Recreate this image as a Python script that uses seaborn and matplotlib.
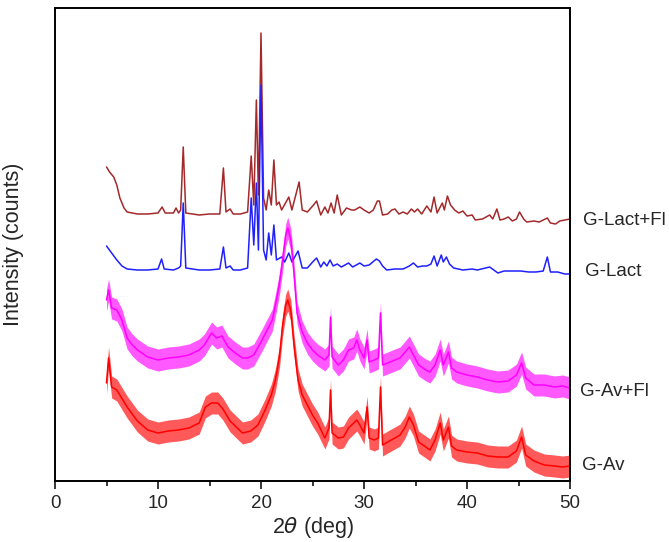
import numpy as np
import pandas as pd
import matplotlib
matplotlib.use("Agg")
import matplotlib.pyplot as plt
import seaborn as sns
from matplotlib.ticker import MultipleLocator

# ---------------- data (intensity in arbitrary units) ----------------
lact_fl_x = [5.0, 5.3, 5.7, 6.0, 6.3, 6.7, 7.0, 8.0, 9.0, 10.0, 10.4, 10.7, 11.5, 11.75, 12.0, 12.2,
             12.45, 12.7, 14.0, 15.0, 16.0, 16.35, 16.6, 17.0, 17.3, 18.0, 18.7, 19.05, 19.3, 19.55,
             19.75, 20.0, 20.25, 20.5, 20.75, 21.0, 21.25, 21.5, 21.75, 22.0, 22.7, 23.0, 23.7, 24.0,
             24.5, 25.1, 25.4, 25.8, 26.2, 26.5, 26.8, 27.1, 27.4, 27.8, 28.3, 28.8, 29.1, 29.6, 30.0,
             30.5, 30.9, 31.3, 31.5, 31.8, 32.3, 32.7, 33.0, 33.4, 33.8, 34.2, 34.6, 34.9, 35.2, 35.6,
             36.1, 36.5, 36.8, 37.1, 37.6, 37.8, 38.1, 38.4, 38.8, 39.2, 39.6, 40.0, 40.5, 40.8, 41.5,
             42.2, 42.5, 42.9, 43.2, 43.6, 44.0, 44.4, 44.8, 45.1, 45.5, 45.8, 46.5, 47.0, 47.8, 48.1,
             48.6, 49.0, 49.5, 50.0]
lact_fl_y = [314, 309, 304, 296, 283, 273, 269, 267, 267, 268, 274, 268, 268, 273, 268, 271,
             334, 268, 266, 267, 267, 313, 269, 272, 267, 267, 269, 325, 276, 381,
             286, 448, 283, 271, 291, 276, 321, 276, 279, 271, 284, 271, 299, 271,
             269, 276, 280, 266, 274, 268, 278, 268, 286, 266, 273, 271, 271, 274, 271,
             268, 271, 280, 280, 266, 267, 271, 272, 267, 269, 267, 272, 269, 272, 267,
             275, 269, 284, 268, 278, 271, 285, 276, 271, 268, 270, 265, 266, 261, 262,
             266, 262, 272, 261, 262, 264, 260, 262, 269, 262, 259, 260, 259, 263, 258,
             257, 260, 261, 262]

lact_x = [5.0, 5.5, 6.0, 6.5, 7.0, 8.0, 9.0, 10.0, 10.35, 10.6, 11.5, 12.0, 12.2, 12.45, 12.7, 14.0,
          15.0, 16.0, 16.35, 16.6, 17.0, 17.3, 18.0, 18.7, 19.05, 19.3, 19.55, 19.75, 20.0, 20.25,
          20.5, 20.75, 21.0, 21.25, 21.5, 22.0, 22.3, 22.7, 23.0, 23.6, 24.0, 24.5, 25.1, 25.4, 25.8,
          26.1, 26.4, 26.7, 27.0, 27.4, 27.8, 28.5, 28.9, 29.6, 30.0, 30.5, 31.2, 31.5, 31.8, 32.2,
          33.0, 33.8, 34.4, 34.8, 35.2, 35.7, 36.1, 36.5, 36.8, 37.1, 37.5, 37.7, 38.0, 38.3, 38.7,
          39.6, 40.5, 41.0, 42.2, 42.6, 43.0, 43.6, 44.6, 45.2, 46.0, 46.7, 47.4, 47.8, 48.1, 48.8,
          49.5, 50.0]
lact_y = [235, 228, 221, 215, 212, 211, 211, 212, 222, 212, 211, 213, 215, 278, 213, 211,
          211, 212, 234, 213, 215, 211, 211, 213, 283, 236, 298, 231, 396, 231,
          221, 248, 226, 256, 221, 224, 219, 228, 219, 230, 213, 213, 220, 223, 214,
          219, 215, 221, 215, 217, 214, 218, 214, 218, 215, 216, 222, 220, 215, 211,
          212, 212, 215, 218, 214, 215, 215, 217, 225, 215, 226, 219, 224, 217, 213,
          211, 212, 211, 214, 211, 208, 210, 210, 210, 209, 209, 210, 224, 209, 209,
          207, 207]

av_fl_x = [5.0, 5.2, 5.5, 6.0, 6.5, 7.0, 7.5, 8.0, 9.0, 10.0, 11.0, 12.0, 13.0, 14.0, 14.5, 15.2,
           15.7, 16.2, 16.8, 17.5, 18.2, 18.7, 19.3, 20.1, 20.6, 21.1, 21.5, 21.8, 22.1, 22.4, 22.6,
           22.9, 23.2, 23.5, 24.0, 24.5, 25.0, 25.5, 26.2, 26.6, 26.75, 26.9, 27.5, 28.0, 28.5, 29.0,
           29.3, 29.6, 30.0, 30.3, 30.5, 31.0, 31.4, 31.6, 31.8, 32.3, 33.0, 33.5, 34.0, 34.4, 34.8,
           35.3, 36.0, 36.4, 36.9, 37.4, 37.7, 38.2, 38.5, 39.0, 40.0, 41.0, 42.0, 43.0, 44.0, 44.8,
           45.3, 45.7, 46.5, 47.5, 48.5, 49.3, 50.0]
av_fl_y = [181, 191, 173, 171, 161, 143, 136, 131, 124, 121, 123, 124, 126, 131, 136, 148,
           143, 145, 134, 128, 123, 123, 126, 141, 151, 161, 181, 198, 221, 246, 253,
           241, 208, 168, 149, 138, 131, 126, 121, 126, 164, 124, 116, 121, 131, 133,
           141, 131, 123, 141, 119, 121, 123, 168, 116, 118, 121, 123, 129, 134, 126,
           116, 111, 109, 116, 131, 116, 129, 113, 109, 106, 104, 101, 99, 100, 106,
           118, 103, 96, 96, 94, 95, 93]

av_x = [5.0, 5.2, 5.5, 6.0, 7.0, 8.0, 9.0, 10.0, 11.0, 12.0, 13.0, 14.0, 14.6, 15.2, 15.8, 16.3,
        17.0, 18.2, 19.0, 19.7, 20.4, 21.0, 21.4, 21.8, 22.1, 22.4, 22.6, 22.9, 23.2, 23.6, 24.0,
        24.5, 25.0, 25.5, 26.2, 26.6, 26.75, 26.9, 27.5, 28.0, 28.5, 29.0, 29.3, 29.6, 30.0, 30.3,
        30.5, 31.0, 31.4, 31.6, 31.8, 32.3, 33.0, 33.5, 34.0, 34.4, 34.8, 35.3, 36.0, 36.4, 36.9,
        37.4, 37.7, 38.2, 38.5, 39.0, 40.0, 41.0, 42.0, 43.0, 44.0, 44.8, 45.3, 45.7, 46.5, 47.5,
        48.5, 49.3, 50.0]
av_y = [98, 123, 94, 91, 74, 60, 51, 48, 50, 51, 53, 58, 74, 78, 78, 72,
        60, 48, 50, 56, 71, 86, 101, 125, 156, 176, 181, 170, 136, 101, 86,
        76, 66, 58, 43, 53, 91, 48, 43, 44, 53, 58, 61, 56, 48, 74,
        43, 41, 43, 94, 36, 39, 43, 46, 54, 64, 56, 39, 34, 31, 41,
        58, 41, 54, 35, 31, 29, 28, 25, 24, 24, 30, 44, 26, 20, 16,
        15, 14, 15]

# visible scatter half-width of the noisy amorphous patterns
av_fl_spread = 11
av_spread = 11

series_names = ["G-Lact+Fl", "G-Lact", "G-Av+Fl", "G-Av"]
series_colors = ["#A3292B", "#2020FF", "#FF00FF", "#FF0000"]
xticks = [0, 10, 20, 30, 40, 50]

# ---------------- build a tidy table ----------------
frames = []
for name, xs, ys in zip(series_names,
                        [lact_fl_x, lact_x, av_fl_x, av_x],
                        [lact_fl_y, lact_y, av_fl_y, av_y]):
    frames.append(pd.DataFrame({"x": xs, "y": ys, "sample": name}))
df = pd.concat(frames, ignore_index=True)

# ---------------- figure ----------------
sns.set_style("white")
plt.rcParams["font.family"] = ["Liberation Sans", "DejaVu Sans"]
plt.rcParams["mathtext.fontset"] = "dejavusans"

fig = plt.figure(figsize=(6.69, 5.42), dpi=100)
ax = fig.add_axes([55 / 669, 1 - 481 / 542, (570 - 55) / 669, (481 - 8) / 542])

palette = dict(zip(series_names, series_colors))

# noise bands for the amorphous patterns
for name, xs, ys, sp in [("G-Av+Fl", av_fl_x, av_fl_y, av_fl_spread),
                         ("G-Av", av_x, av_y, av_spread)]:
    ya = np.array(ys, dtype=float)
    ax.fill_between(xs, ya - sp, ya + sp, color=palette[name], alpha=0.65, lw=0)

sns.lineplot(data=df, x="x", y="y", hue="sample", palette=palette, ax=ax,
             legend=False, lw=1.1, estimator=None, sort=False)

ax.set_xlim(0, 50)
ax.set_ylim(0, 473)
ax.set_yticks([])
ax.set_xticks(xticks)
ax.set_xticklabels([str(t) for t in xticks], fontsize=13.5)
ax.xaxis.set_minor_locator(MultipleLocator(5))
ax.tick_params(axis="x", which="major", direction="out", length=6, width=1.3,
               bottom=True, top=False, pad=4)
ax.tick_params(axis="x", which="minor", direction="out", length=3.5, width=1.3,
               bottom=True, top=False)
for s in ax.spines.values():
    s.set_color("black")
    s.set_linewidth(1.4)

ax.set_xlabel(r"2$\theta$ (deg)", fontsize=15.5, labelpad=2)
ax.set_ylabel("Intensity (counts)", fontsize=15.5, labelpad=22)

# series labels to the right of the axes
label_pos = {"G-Lact+Fl": (583, 221), "G-Lact": (585, 271), "G-Av+Fl": (580, 391), "G-Av": (582, 465)}
for name in series_names:
    px, py = label_pos[name]
    fig.text(px / 669, 1 - py / 542, name, fontsize=13.5, ha="left", va="center")

fig.savefig("out.png", dpi=100)
